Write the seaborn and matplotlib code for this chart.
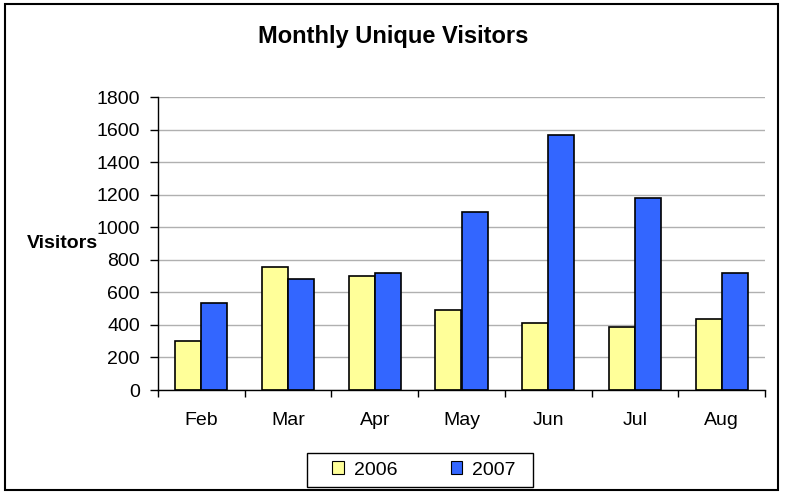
import matplotlib
matplotlib.use("Agg")
import matplotlib.pyplot as plt
import seaborn as sns
import pandas as pd
from matplotlib.patches import Rectangle

months = ["Feb", "Mar", "Apr", "May", "Jun", "Jul", "Aug"]
visitors_2006 = [303, 755, 699, 490, 414, 387, 434]
visitors_2007 = [535, 680, 719, 1096, 1568, 1180, 719]
series_names = ["2006", "2007"]
y_ticks = [0, 200, 400, 600, 800, 1000, 1200, 1400, 1600, 1800]

df = pd.DataFrame({
    "Month": months * 2,
    "Visitors": visitors_2006 + visitors_2007,
    "Year": [series_names[0]] * len(months) + [series_names[1]] * len(months),
})

sns.set_theme(style="white")
plt.rcParams["font.family"] = ["Liberation Sans", "DejaVu Sans"]
plt.rcParams["text.color"] = "black"
plt.rcParams["xtick.color"] = "black"
plt.rcParams["ytick.color"] = "black"
plt.rcParams["axes.labelcolor"] = "black"

fig = plt.figure(figsize=(7.85, 4.94), dpi=100)
W, H = 785, 494
ax = fig.add_axes([158 / W, 1 - 390 / H, (765 - 158) / W, (390 - 97) / H])

palette = {"2006": "#FFFF99", "2007": "#3366FF"}
sns.barplot(data=df, x="Month", y="Visitors", hue="Year", order=months,
            hue_order=series_names, palette=palette, width=0.6,
            edgecolor="black", linewidth=1.2, saturation=1, ax=ax, legend=False)

ax.set_ylim(0, 1800)
ax.set_xlim(-0.5, len(months) - 0.5)
ax.set_yticks(y_ticks)
ax.set_yticklabels([str(t) for t in y_ticks], fontsize=14)
ax.yaxis.grid(True, color="#B0B0B0", linewidth=1)
ax.set_axisbelow(True)

# x ticks at category boundaries, labels at centers
ax.set_xticks([i + 0.5 for i in range(-1, len(months))], minor=False)
ax.set_xticklabels([""] * (len(months) + 1))
ax.set_xticks(range(len(months)), minor=True)
ax.set_xticklabels(months, minor=True, fontsize=14)
ax.tick_params(axis="x", which="major", direction="out", length=5, width=1, color="black", bottom=True)
ax.tick_params(axis="x", which="minor", length=0, pad=16, bottom=True)
ax.tick_params(axis="y", direction="out", length=6, width=1, color="black", left=True, pad=7)

for s in ["top", "right"]:
    ax.spines[s].set_visible(False)
for s in ["left", "bottom"]:
    ax.spines[s].set_color("black")
    ax.spines[s].set_linewidth(1)

ax.set_xlabel("")
ax.set_ylabel("Visitors", rotation=0, fontsize=14, fontweight="bold", ha="center", va="center")
ax.yaxis.set_label_coords((62 - 158) / (765 - 158), (390 - 243) / (390 - 97))

fig.text(393 / W, 1 - 36 / H, "Monthly Unique Visitors", ha="center", va="center",
         fontsize=17, fontweight="bold")

handles = [Rectangle((0, 0), 1, 1, facecolor=palette[n], edgecolor="black", linewidth=0.8)
           for n in series_names]
leg = fig.legend(handles, series_names, loc="center", ncol=2,
                 bbox_to_anchor=(424 / W, 1 - 470 / H), frameon=False,
                 fontsize=14, handlelength=0.6, handleheight=0.6, handletextpad=0.5,
                 columnspacing=2.75, borderpad=0.2, borderaxespad=0)

fig.patches.append(Rectangle((307 / W, 1 - 487 / H), (533 - 307) / W, (487 - 453) / H,
                             transform=fig.transFigure, fill=False,
                             edgecolor="black", linewidth=1))

fig.patches.append(Rectangle((5 / W, 4 / H), (778 - 5) / W, (490 - 4) / H,
                             transform=fig.transFigure, fill=False,
                             edgecolor="black", linewidth=1.5))

fig.savefig("out.png", dpi=100)
